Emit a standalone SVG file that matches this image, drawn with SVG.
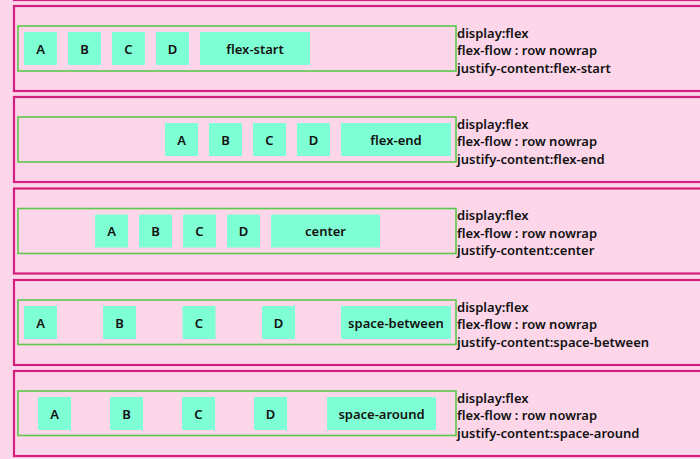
<svg xmlns="http://www.w3.org/2000/svg" width="700" height="459" viewBox="0 0 700 459">
<style>
.bg{fill:#fdd6ea}
.sec{fill:#fdd6ea;stroke:#d3207e;stroke-width:2.2}
.box{fill:none;stroke:#5cc84a;stroke-width:1.6}
.it{fill:#7fffd4}
.lbl{font-family:"Noto Sans","DejaVu Sans",sans-serif;font-size:13px;font-weight:600;fill:#111;text-anchor:middle;dominant-baseline:central}
.txt{font-family:"Noto Sans","DejaVu Sans",sans-serif;font-size:13px;font-weight:600;fill:#111}
</style>
<defs>
<rect id="sq" width="33" height="33" class="it"/>
</defs>
<rect class="bg" x="0" y="0" width="700" height="459"/>
<rect class="sec" x="14" y="-86" width="700" height="86"/>

<g id="sec1">
<rect class="sec" x="14" y="6" width="700" height="85"/>
<rect class="box" x="18" y="26" width="438" height="45"/>
<g id="s1A"><use href="#sq" x="24" y="32"/><text class="lbl" x="40.5" y="48.5">A</text></g>
<g id="s1B"><use href="#sq" x="68" y="32"/><text class="lbl" x="84.5" y="48.5">B</text></g>
<g id="s1C"><use href="#sq" x="112" y="32"/><text class="lbl" x="128.5" y="48.5">C</text></g>
<g id="s1D"><use href="#sq" x="156" y="32"/><text class="lbl" x="172.5" y="48.5">D</text></g>
<g id="s1E"><rect class="it" x="200" y="32" width="110" height="33"/><text class="lbl" x="255" y="48.5">flex-start</text></g>
<text class="txt" x="457" y="37.5">display:flex</text>
<text class="txt" x="457" y="55">flex-flow : row nowrap</text>
<text class="txt" x="457" y="72.5">justify-content:flex-start</text>
</g>

<g id="sec2">
<rect class="sec" x="14" y="97" width="700" height="85"/>
<rect class="box" x="18" y="117" width="438" height="45"/>
<g id="s2A"><use href="#sq" x="165" y="123"/><text class="lbl" x="181.5" y="139.5">A</text></g>
<g id="s2B"><use href="#sq" x="209" y="123"/><text class="lbl" x="225.5" y="139.5">B</text></g>
<g id="s2C"><use href="#sq" x="253" y="123"/><text class="lbl" x="269.5" y="139.5">C</text></g>
<g id="s2D"><use href="#sq" x="297" y="123"/><text class="lbl" x="313.5" y="139.5">D</text></g>
<g id="s2E"><rect class="it" x="341" y="123" width="110" height="33"/><text class="lbl" x="396" y="139.5">flex-end</text></g>
<text class="txt" x="457" y="128.5">display:flex</text>
<text class="txt" x="457" y="146">flex-flow : row nowrap</text>
<text class="txt" x="457" y="163.5">justify-content:flex-end</text>
</g>

<g id="sec3">
<rect class="sec" x="14" y="188.5" width="700" height="85"/>
<rect class="box" x="18" y="208.5" width="438" height="45"/>
<g id="s3A"><use href="#sq" x="95" y="214.5"/><text class="lbl" x="111.5" y="231">A</text></g>
<g id="s3B"><use href="#sq" x="139" y="214.5"/><text class="lbl" x="155.5" y="231">B</text></g>
<g id="s3C"><use href="#sq" x="183" y="214.5"/><text class="lbl" x="199.5" y="231">C</text></g>
<g id="s3D"><use href="#sq" x="227" y="214.5"/><text class="lbl" x="243.5" y="231">D</text></g>
<g id="s3E"><rect class="it" x="271" y="214.5" width="109" height="33"/><text class="lbl" x="325.5" y="231">center</text></g>
<text class="txt" x="457" y="220">display:flex</text>
<text class="txt" x="457" y="237.5">flex-flow : row nowrap</text>
<text class="txt" x="457" y="255">justify-content:center</text>
</g>

<g id="sec4">
<rect class="sec" x="14" y="280" width="700" height="85"/>
<rect class="box" x="18" y="300" width="438" height="44.5"/>
<g id="s4A"><use href="#sq" x="24" y="306"/><text class="lbl" x="40.5" y="322.5">A</text></g>
<g id="s4B"><use href="#sq" x="103" y="306"/><text class="lbl" x="119.5" y="322.5">B</text></g>
<g id="s4C"><use href="#sq" x="182.5" y="306"/><text class="lbl" x="199" y="322.5">C</text></g>
<g id="s4D"><use href="#sq" x="262" y="306"/><text class="lbl" x="278.5" y="322.5">D</text></g>
<g id="s4E"><rect class="it" x="341" y="306" width="110" height="33"/><text class="lbl" x="396" y="322.5">space-between</text></g>
<text class="txt" x="457" y="311.5">display:flex</text>
<text class="txt" x="457" y="329">flex-flow : row nowrap</text>
<text class="txt" x="457" y="346.5">justify-content:space-between</text>
</g>

<g id="sec5">
<rect class="sec" x="14" y="371" width="700" height="85"/>
<rect class="box" x="18" y="391" width="438" height="44.5"/>
<g id="s5A"><use href="#sq" x="38" y="397"/><text class="lbl" x="54.5" y="413.5">A</text></g>
<g id="s5B"><use href="#sq" x="110" y="397"/><text class="lbl" x="126.5" y="413.5">B</text></g>
<g id="s5C"><use href="#sq" x="182" y="397"/><text class="lbl" x="198.5" y="413.5">C</text></g>
<g id="s5D"><use href="#sq" x="254" y="397"/><text class="lbl" x="270.5" y="413.5">D</text></g>
<g id="s5E"><rect class="it" x="327" y="397" width="109" height="33"/><text class="lbl" x="381.5" y="413.5">space-around</text></g>
<text class="txt" x="457" y="402.5">display:flex</text>
<text class="txt" x="457" y="420">flex-flow : row nowrap</text>
<text class="txt" x="457" y="437.5">justify-content:space-around</text>
</g>
</svg>
